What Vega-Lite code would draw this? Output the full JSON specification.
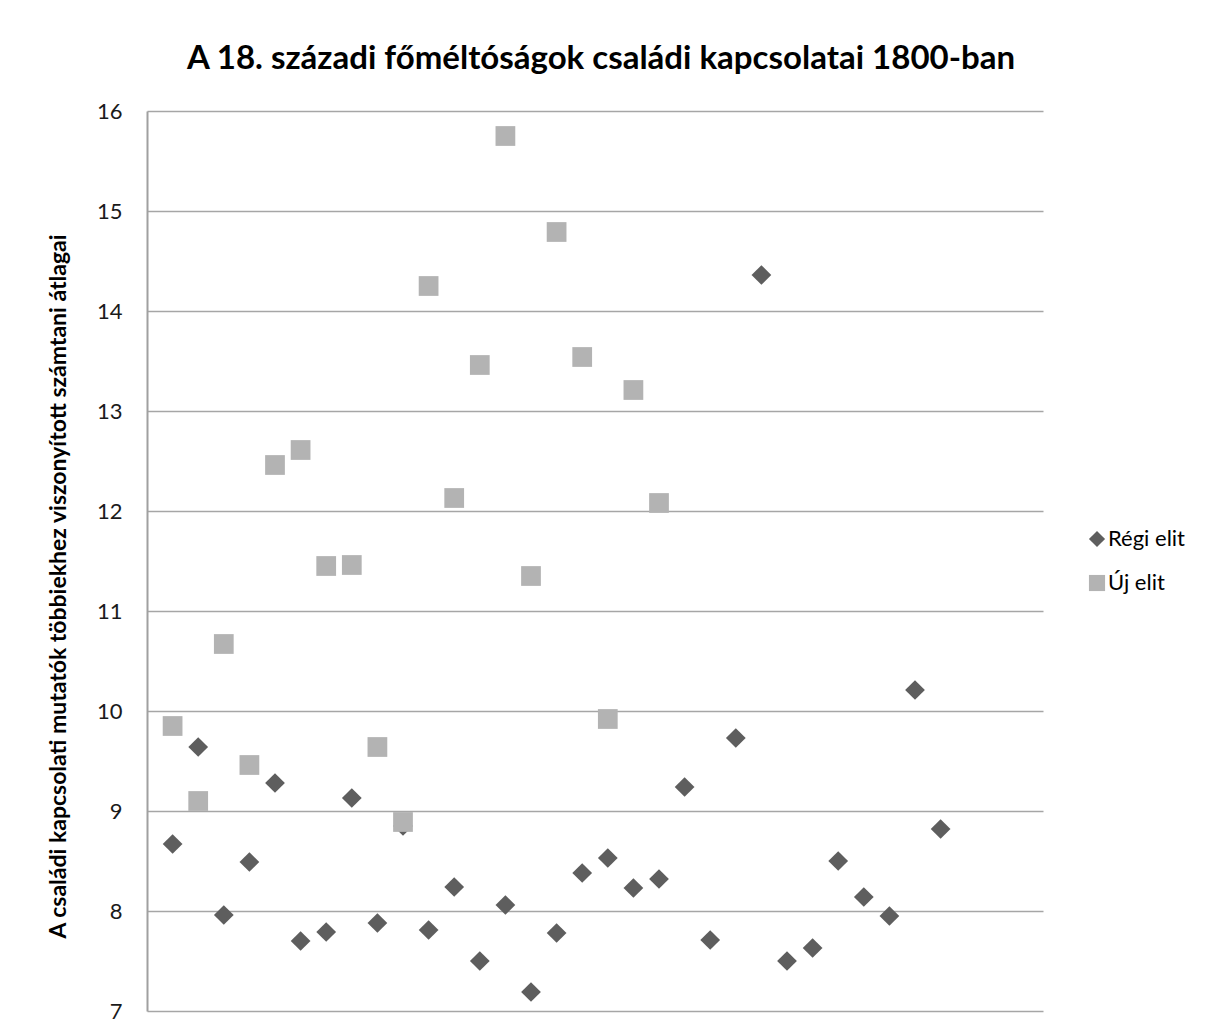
{
  "$schema": "https://vega.github.io/schema/vega-lite/v6.json",
  "width": 896,
  "height": 900,
  "autosize": {"type": "none"},
  "padding": {"left": 147, "top": 111, "right": 166, "bottom": 19},
  "background": "white",
  "title": {
    "text": "A 18. századi főméltóságok családi kapcsolatai 1800-ban",
    "font": "Lato",
    "fontSize": 33,
    "fontWeight": "bold",
    "color": "#000000",
    "anchor": "middle",
    "offset": 24,
    "dx": 6
  },
  "data": {
    "values": [
      {"i": 1, "elit": "Régi elit", "v": 8.67},
      {"i": 2, "elit": "Régi elit", "v": 9.64},
      {"i": 3, "elit": "Régi elit", "v": 7.96},
      {"i": 4, "elit": "Régi elit", "v": 8.49},
      {"i": 5, "elit": "Régi elit", "v": 9.28},
      {"i": 6, "elit": "Régi elit", "v": 7.70},
      {"i": 7, "elit": "Régi elit", "v": 7.79},
      {"i": 8, "elit": "Régi elit", "v": 9.13},
      {"i": 9, "elit": "Régi elit", "v": 7.88},
      {"i": 10, "elit": "Régi elit", "v": 8.85},
      {"i": 11, "elit": "Régi elit", "v": 7.81},
      {"i": 12, "elit": "Régi elit", "v": 8.24},
      {"i": 13, "elit": "Régi elit", "v": 7.50},
      {"i": 14, "elit": "Régi elit", "v": 8.06},
      {"i": 15, "elit": "Régi elit", "v": 7.19},
      {"i": 16, "elit": "Régi elit", "v": 7.78},
      {"i": 17, "elit": "Régi elit", "v": 8.38},
      {"i": 18, "elit": "Régi elit", "v": 8.53},
      {"i": 19, "elit": "Régi elit", "v": 8.23},
      {"i": 20, "elit": "Régi elit", "v": 8.32},
      {"i": 21, "elit": "Régi elit", "v": 9.24},
      {"i": 22, "elit": "Régi elit", "v": 7.71},
      {"i": 23, "elit": "Régi elit", "v": 9.73},
      {"i": 24, "elit": "Régi elit", "v": 14.36},
      {"i": 25, "elit": "Régi elit", "v": 7.50},
      {"i": 26, "elit": "Régi elit", "v": 7.63},
      {"i": 27, "elit": "Régi elit", "v": 8.50},
      {"i": 28, "elit": "Régi elit", "v": 8.14},
      {"i": 29, "elit": "Régi elit", "v": 7.95},
      {"i": 30, "elit": "Régi elit", "v": 10.21},
      {"i": 31, "elit": "Régi elit", "v": 8.82},
      {"i": 1, "elit": "Új elit", "v": 9.85},
      {"i": 2, "elit": "Új elit", "v": 9.10},
      {"i": 3, "elit": "Új elit", "v": 10.67},
      {"i": 4, "elit": "Új elit", "v": 9.46},
      {"i": 5, "elit": "Új elit", "v": 12.46},
      {"i": 6, "elit": "Új elit", "v": 12.61},
      {"i": 7, "elit": "Új elit", "v": 11.45},
      {"i": 8, "elit": "Új elit", "v": 11.46},
      {"i": 9, "elit": "Új elit", "v": 9.64},
      {"i": 10, "elit": "Új elit", "v": 8.89},
      {"i": 11, "elit": "Új elit", "v": 14.25},
      {"i": 12, "elit": "Új elit", "v": 12.13},
      {"i": 13, "elit": "Új elit", "v": 13.46},
      {"i": 14, "elit": "Új elit", "v": 15.75},
      {"i": 15, "elit": "Új elit", "v": 11.35},
      {"i": 16, "elit": "Új elit", "v": 14.79},
      {"i": 17, "elit": "Új elit", "v": 13.54},
      {"i": 18, "elit": "Új elit", "v": 9.92},
      {"i": 19, "elit": "Új elit", "v": 13.21},
      {"i": 20, "elit": "Új elit", "v": 12.08}
    ]
  },
  "mark": {"type": "point", "filled": true, "opacity": 1, "size": 390, "strokeWidth": 0},
  "encoding": {
    "x": {
      "field": "i",
      "type": "quantitative",
      "scale": {"domain": [0, 35], "nice": false, "zero": false},
      "axis": null
    },
    "y": {
      "field": "v",
      "type": "quantitative",
      "scale": {"domain": [7, 16], "nice": false, "zero": false},
      "axis": {
        "values": [7, 8, 9, 10, 11, 12, 13, 14, 15, 16],
        "grid": true,
        "gridColor": "#a6a6a6",
        "gridWidth": 1.5,
        "domain": true,
        "domainColor": "#a0a0a0",
        "domainWidth": 2,
        "ticks": false,
        "labelFont": "Lato",
        "labelFontSize": 22,
        "labelColor": "#1a1a1a",
        "labelPadding": 25,
        "title": "A családi kapcsolati mutatók többiekhez viszonyított számtani átlagai",
        "titleFont": "Lato",
        "titleFontSize": 23,
        "titleFontWeight": "bold",
        "titleColor": "#000000",
        "titlePadding": 26,
        "titleY": 475
      }
    },
    "color": {
      "field": "elit",
      "type": "nominal",
      "scale": {"domain": ["Régi elit", "Új elit"], "range": ["#5e5e5e", "#b3b3b3"]},
      "legend": {
        "title": null,
        "orient": "none",
        "legendX": 939,
        "legendY": 417,
        "labelFont": "Lato",
        "labelFontSize": 22,
        "labelColor": "#000000",
        "symbolSize": 260,
        "labelOffset": 0,
        "rowPadding": 22
      }
    },
    "shape": {
      "field": "elit",
      "type": "nominal",
      "scale": {"domain": ["Régi elit", "Új elit"], "range": ["diamond", "square"]}
    },
    "order": {"field": "elit", "sort": "ascending"}
  },
  "config": {
    "view": {"stroke": null}
  }
}
